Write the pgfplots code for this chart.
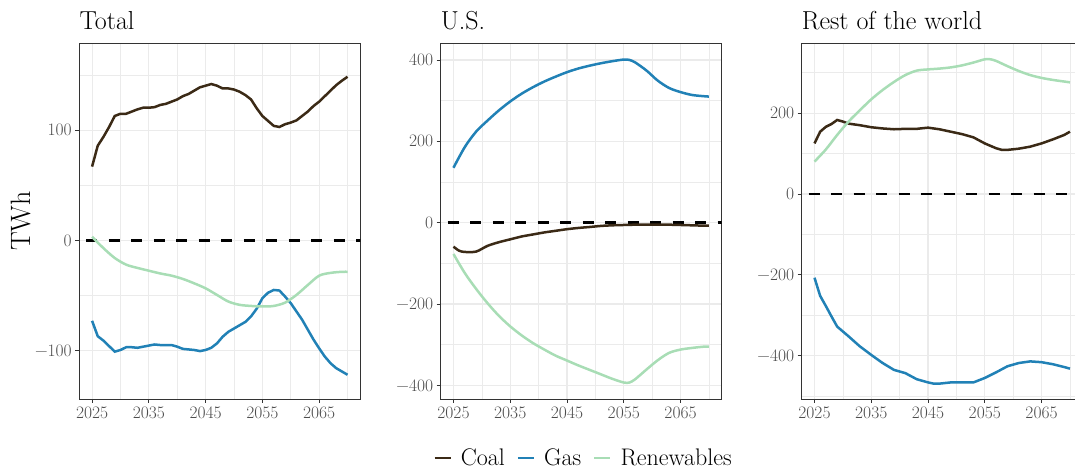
\documentclass[border=0pt]{standalone}
\usepackage{fontspec}
\usepackage{pgfplots}
\pgfplotsset{compat=1.18}
\definecolor{coal}{HTML}{3B2A16}
\definecolor{gas}{HTML}{2181B6}
\definecolor{ren}{HTML}{A8DDB5}
\definecolor{gridc}{HTML}{EBEBEB}
\definecolor{framec}{HTML}{333333}
\definecolor{tickc}{HTML}{4D4D4D}

\pgfplotsset{
 panel/.style={
  scale only axis, width=281pt, height=355.7pt, anchor=south west,
  xmin=2022.75, xmax=2072.25,
  xtick={2025,2035,2045,2055,2065},
  xticklabels={2025,2035,2045,2055,2065},
  minor xtick={2030,2040,2050,2060,2070},
  grid=both,
  major grid style={draw=gridc, line width=1.1pt},
  minor grid style={draw=gridc, line width=0.7pt},
  axis line style={draw=framec, line width=0.9pt},
  tick pos=left, tick align=outside,
  major tick length=4pt, minor tick length=0pt,
  major tick style={draw=framec, line width=0.9pt},
  ticklabel style={font=\fontsize{17.5}{17.5}\selectfont, text=tickc},
  /pgf/number format/assume math mode=true,
  clip=true,
 },
 coalst/.style={coal, line width=2.5pt},
 gasst/.style={gas, line width=2.5pt},
 renst/.style={ren, line width=2.5pt},
 zerost/.style={black, line width=2.6pt, dash pattern=on 11pt off 11.5pt, forget plot},
}

\begin{document}
\begin{tikzpicture}
\path[use as bounding box] (0,0) rectangle (1075pt,470pt);

% ---------------- Total ----------------
\begin{axis}[panel, at={(79.3pt,71pt)},
  ymin=-144, ymax=179,
  ytick={-100,0,100}, yticklabels={−100,0,100}, minor ytick={-50,50,150}]
\addplot[zerost] coordinates {(2020,0) (2075,0)};
\addplot[coalst] coordinates {
(2025,67) (2026,86) (2027,94) (2028,103) (2029,113) (2030,115) (2031,115)
(2032,117) (2033,119) (2034,120.5) (2035,120.5) (2036,121) (2037,123)
(2038,124) (2039,126) (2040,128) (2041,131) (2042,133) (2043,136) (2044,139)
(2045,140.5) (2046,142) (2047,140.5) (2048,138) (2049,138) (2050,137)
(2051,135) (2052,132) (2053,128) (2054,120) (2055,113) (2056,108.5)
(2057,104) (2058,103) (2059,105.5) (2060,107) (2061,109) (2062,113)
(2063,117) (2064,122) (2065,126) (2066,131) (2067,136) (2068,141)
(2069,145) (2070,148.6)};
\addplot[gasst] coordinates {
(2025,-73) (2026,-87) (2027,-91) (2028,-96) (2029,-101) (2030,-99.5)
(2031,-97) (2032,-97) (2033,-97.5) (2034,-96.5) (2035,-95.5) (2036,-94.5)
(2037,-95) (2038,-95) (2039,-95) (2040,-96.5) (2041,-98.5) (2042,-99)
(2043,-99.5) (2044,-100.5) (2045,-99.5) (2046,-97.5) (2047,-93.5)
(2048,-87.5) (2049,-83) (2050,-80) (2051,-77) (2052,-74) (2053,-69)
(2054,-62) (2055,-52.5) (2056,-47.5) (2057,-45) (2058,-45.5) (2059,-51)
(2060,-57) (2061,-64.5) (2062,-72) (2063,-81) (2064,-90) (2065,-98)
(2066,-105.5) (2067,-111.5) (2068,-116) (2069,-119) (2070,-122)};
\addplot[renst, smooth] coordinates {
(2025,3.3) (2027,-7) (2029,-16) (2031,-22) (2033,-25) (2035,-27.5)
(2037,-30) (2039,-32) (2041,-35) (2043,-39) (2045,-43.5) (2047,-49.5)
(2049,-55.5) (2051,-58.5) (2053,-59.5) (2055,-60) (2057,-59.5) (2059,-56.5)
(2061,-49.5) (2063,-40.5) (2065,-32) (2067,-29.5) (2069,-28.5) (2070,-28.5)};
\end{axis}

% ---------------- U.S. ----------------
\begin{axis}[panel, at={(440.7pt,71pt)},
  ymin=-433.5, ymax=441,
  ytick={-400,-200,0,200,400}, yticklabels={−400,−200,0,200,400},
  minor ytick={-300,-100,100,300},
  legend style={at={(0.514,-0.166)}, anchor=center, draw=none, fill=none,
    legend columns=3, font=\fontsize{24}{24}\selectfont,
    /tikz/every even column/.append style={column sep=7pt},
    nodes={inner xsep=5pt}},
  legend image code/.code={\draw[#1, line width=2pt] (0pt,0pt) -- (16pt,0pt); \path (20pt,0pt);}]
\addplot[zerost] coordinates {(2020,0) (2075,0)};
\addplot[coalst, smooth] coordinates {
(2025,-59) (2026,-69) (2027,-72) (2029,-71) (2031,-57) (2033,-48)
(2035,-41) (2037,-34) (2039,-29) (2041,-24) (2043,-20) (2045,-16)
(2047,-13) (2049,-10.6) (2051,-8) (2053,-6.5) (2055,-5.7) (2057,-5)
(2059,-5) (2061,-5) (2063,-5) (2065,-5.7) (2067,-6.5) (2069,-7.3) (2070,-7.3)};
\addlegendentry{Coal}
\addplot[gasst, smooth] coordinates {
(2025,135) (2027,186) (2029,224) (2031,251) (2033,276) (2035,298)
(2037,317) (2039,333) (2041,347) (2043,359) (2045,370) (2047,379)
(2049,386) (2051,392) (2053,397) (2055,401) (2056,400) (2057,394)
(2059,374) (2061,349) (2063,331) (2065,321) (2067,314) (2069,311) (2070,310)};
\addlegendentry{Gas}
\addplot[renst, smooth] coordinates {
(2025,-77) (2027,-124) (2029,-163) (2031,-198) (2033,-229) (2035,-255)
(2037,-277) (2039,-296) (2041,-312) (2043,-327) (2045,-339) (2047,-351)
(2049,-362) (2051,-373) (2053,-384) (2055,-393) (2056,-393) (2057,-385)
(2059,-361) (2061,-338) (2063,-320) (2065,-312) (2067,-308) (2069,-305) (2070,-305)};
\addlegendentry{Renewables}
\end{axis}

% ---------------- Rest of the world ----------------
\begin{axis}[panel, at={(801.7pt,71pt)},
  ymin=-507, ymax=372.6,
  ytick={-400,-200,0,200}, yticklabels={−400,−200,0,200},
  minor ytick={-500,-300,-100,100,300}]
\addplot[zerost] coordinates {(2020,0) (2075,0)};
\addplot[coalst] coordinates {
(2025,125) (2026,154) (2027,166) (2028,173) (2029,183) (2030,179) (2031,174)
(2033,170) (2035,165) (2037,162) (2039,160) (2041,161) (2043,161) (2045,164)
(2047,160) (2049,154) (2051,148) (2053,140) (2055,125) (2057,113) (2058,109)
(2059,109) (2061,112) (2063,117) (2065,125) (2067,135) (2069,146) (2070,154)};
\addplot[gasst] coordinates {
(2025,-207) (2026,-252) (2027,-277) (2028,-303) (2029,-328) (2030,-340)
(2031,-352) (2033,-377) (2035,-398) (2037,-418) (2039,-435) (2041,-443)
(2043,-458) (2045,-466) (2046,-469) (2047,-469) (2049,-466) (2051,-466)
(2053,-466) (2055,-455) (2057,-441) (2059,-426) (2061,-418) (2063,-414)
(2065,-416) (2067,-421) (2069,-428) (2070,-432)};
\addplot[renst, smooth] coordinates {
(2025,80) (2027,110) (2029,146) (2031,179) (2033,207) (2035,234)
(2037,257) (2039,277) (2041,294) (2043,305) (2045,308) (2047,310)
(2049,313) (2051,318) (2053,325) (2055,333) (2056,333) (2057,329)
(2059,316) (2061,304) (2063,294) (2065,287) (2067,282) (2069,278) (2070,276)};
\end{axis}

% titles and y label
\node[anchor=base west, inner sep=0pt, font=\fontsize{26}{26}\selectfont] at (79.3pt,440pt) {Total};
\node[anchor=base west, inner sep=0pt, font=\fontsize{26}{26}\selectfont] at (440.7pt,440pt) {U.S.};
\node[anchor=base west, inner sep=0pt, font=\fontsize{26}{26}\selectfont] at (801.7pt,440pt) {Rest of the world};
\node[rotate=90, inner sep=0pt, font=\fontsize{28}{28}\selectfont] at (21pt,249pt) {TWh};
\end{tikzpicture}
\end{document}
